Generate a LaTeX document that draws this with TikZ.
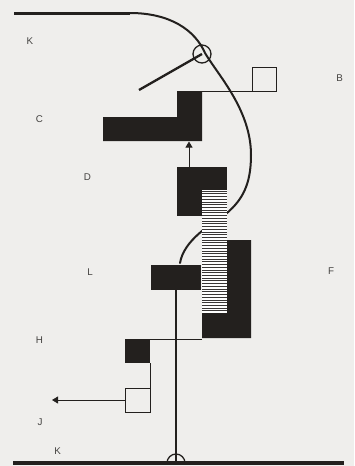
\documentclass[tikz,border=0pt]{standalone}
\usepackage{fontspec}
\setmainfont{Liberation Sans}
\usetikzlibrary{arrows.meta}
\definecolor{bg}{RGB}{239,238,236}
\definecolor{ink}{RGB}{35,32,30}
\tikzset{
  blk/.style={fill=ink,draw=none,inner sep=0pt,outer sep=0pt},
  openbox/.style={draw=ink,line width=0.8pt,fill=none,inner sep=0pt,outer sep=0pt},
  thinline/.style={draw=ink,line width=0.8pt},
  tiparrow/.style={draw=ink,line width=0.8pt,-{Triangle[width=7pt,length=6pt]}},
  lbl/.style={font=\fontsize{9.8}{11}\selectfont,text=ink!85,inner sep=0pt},
  heavy/.style={draw=ink,line width=2pt},
}
\begin{document}
\begin{tikzpicture}[x=1pt,y=1pt]
\fill[bg] (0,0) rectangle (354,-466);
\useasboundingbox (0,0) rectangle (354,-466);
% top line and big curve
\draw[draw=ink,line width=3pt] (14,-13) -- (130,-13);
\draw[heavy,line cap=round] (128,-13) -- (130,-13)
  .. controls (170,-13) and (195,-30) .. (205,-53)
  .. controls (218,-75) and (251,-110) .. (251,-155)
  .. controls (251,-185) and (242,-200) .. (227,-213)
  .. controls (210,-225) and (184,-240) .. (180,-263);
% circle and diagonal
\node[draw=ink,line width=1.3pt,circle,minimum size=18pt,inner sep=0pt] (circ) at (202,-54) {};
\coordinate (diagEnd) at (139,-90);
\draw[draw=ink,line width=2.3pt] (circ.center) -- (diagEnd);
% B box and line
\node[openbox,minimum width=24pt,minimum height=24pt] (Bbox) at (264,-79) {};
\coordinate (Ctr) at (202,-91);
\draw[thinline] (Ctr) -- (Bbox.south west);
% C shape
\fill[ink] (103,-141) -- (103,-117) -- (177,-117) -- (177,-91) -- (202,-91) -- (202,-141) -- cycle;
% D box
\fill[ink] (177,-167) rectangle (227,-216);
% stripes
\fill[white!94!bg] (202,-190) rectangle (227,-313);
\foreach \i in {0,...,44} {
  \draw[draw=ink!90,line width=1.0pt] (202,-191.2-\i*2.72) -- (227,-191.2-\i*2.72);
}
% F shape
\fill[ink] (227,-240) -- (251,-240) -- (251,-338) -- (202,-338) -- (202,-313) -- (227,-313) -- cycle;
% arrow D -> C
\coordinate (Dtop) at (189,-167);
\coordinate (Cbot) at (189,-141.5);
\draw[tiparrow] (Dtop) -- (Cbot);
% L box
\node[blk,minimum width=50pt,minimum height=25pt] (Lbox) at (176,-277.5) {};
% vertical line and bottom
\coordinate (botc) at (176,-463);
\draw[draw=ink,line width=1.5pt] (Lbox.south) -- (botc);
\draw[draw=ink,line width=3.5pt] (13,-463) -- (344,-463);
\draw[draw=ink,line width=1.3pt] (167,-463) arc[start angle=180,end angle=0,radius=9];
% H and J boxes
\node[blk,minimum width=25pt,minimum height=24pt] (Hbox) at (137.5,-351) {};
\node[openbox,minimum width=25pt,minimum height=24pt] (Jbox) at (137.5,-400) {};
\coordinate (Fbl) at (202,-339);
\draw[thinline] (Hbox.north east) -- (Fbl);
\draw[thinline] (Hbox.south east) -- (Jbox.north east);
\coordinate (Jtip) at (52,-400);
\draw[tiparrow] (Jbox.west) -- (Jtip);
% labels
\node[lbl] (lK1) at (30,-41) {K};
\node[lbl] (lB) at (339.7,-78.5) {B};
\node[lbl] (lC) at (39.3,-119.3) {C};
\node[lbl] (lD) at (87.3,-176.7) {D};
\node[lbl] (lL) at (90,-272.5) {L};
\node[lbl] (lF) at (331,-271) {F};
\node[lbl] (lH) at (39.3,-340) {H};
\node[lbl] (lJ) at (40,-421.7) {J};
\node[lbl] (lK2) at (57.7,-451) {K};
\end{tikzpicture}
\end{document}
